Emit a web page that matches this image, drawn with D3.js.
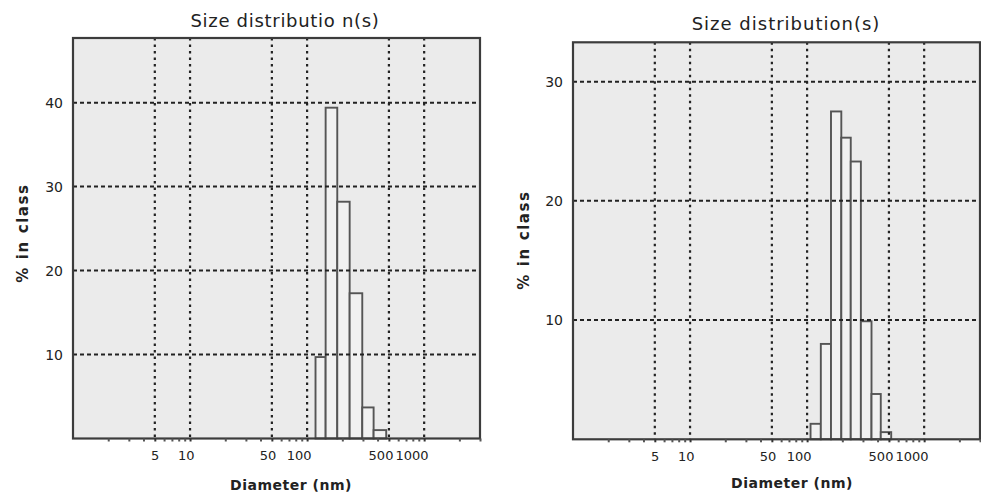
<!DOCTYPE html>
<html>
<head>
<meta charset="utf-8">
<script src="https://cdn.jsdelivr.net/npm/d3@7"></script>
<style>
  html, body { margin: 0; padding: 0; background: #ffffff; }
  svg { display: block; }
  text { font-family: "DejaVu Sans", Verdana, sans-serif; fill: #222; }
</style>
</head>
<body>
<svg id="chart" width="981" height="492"></svg>
<script>
// ---- data ----
const xDomain = [1, 3000];
const xTickValues = [5, 10, 50, 100, 500, 1000];
const xTickLabels = ["5", "10", "50", "100", "500", "1000"];
const minorTickValues = [2, 3, 4, 6, 7, 8, 9, 20, 30, 40, 60, 70, 80, 90, 200, 300, 400, 600, 700, 800, 900, 2000, 3000];

const leftTitle = "Size distributio n(s)";
const leftYMax = 47.7;
const leftYTicks = [10, 20, 30, 40];
const leftBinEdges = [118, 144, 181, 231, 296, 370, 474];
const leftValues = [9.7, 39.4, 28.2, 17.3, 3.7, 1.0];

const rightTitle = "Size distribution(s)";
const rightYMax = 33.3;
const rightYTicks = [10, 20, 30];
const rightBinEdges = [107, 131, 160, 196, 236, 288, 355, 426, 523];
const rightValues = [1.3, 8.0, 27.5, 25.3, 23.3, 9.9, 3.8, 0.6];

const yLabel = "% in class";
const xLabel = "Diameter (nm)";

// ---- drawing ----
const svg = d3.select("#chart");

function drawPanel(p) {
  const x = d3.scaleLog().domain(xDomain).range([p.left, p.right]);
  const y = d3.scaleLinear().domain([0, p.yMax]).range([p.bottom, p.top]);
  const g = svg.append("g");

  // plot background
  g.append("rect")
    .attr("x", p.left).attr("y", p.top)
    .attr("width", p.right - p.left).attr("height", p.bottom - p.top)
    .attr("fill", "#ebebeb");

  // bars
  const bins = p.values.map((v, i) => ({ x0: p.edges[i], x1: p.edges[i + 1], v }));
  g.selectAll("rect.bar").data(bins).join("rect")
    .attr("class", "bar")
    .attr("x", d => x(d.x0))
    .attr("width", d => x(d.x1) - x(d.x0))
    .attr("y", d => y(d.v))
    .attr("height", d => y(0) - y(d.v))
    .attr("fill", "#f1f1f1")
    .attr("stroke", "#555")
    .attr("stroke-width", 1.9);

  // grid: vertical dotted
  g.selectAll("line.vgrid").data(xTickValues).join("line")
    .attr("class", "vgrid")
    .attr("x1", d => x(d)).attr("x2", d => x(d))
    .attr("y1", p.top).attr("y2", p.bottom)
    .attr("stroke", "#222").attr("stroke-width", 2.2)
    .attr("stroke-dasharray", "2.5,4");

  // grid: horizontal dashed
  g.selectAll("line.hgrid").data(p.yTicks).join("line")
    .attr("class", "hgrid")
    .attr("x1", p.left).attr("x2", p.right)
    .attr("y1", d => y(d)).attr("y2", d => y(d))
    .attr("stroke", "#222").attr("stroke-width", 2)
    .attr("stroke-dasharray", "4,3");

  // frame
  g.append("rect")
    .attr("x", p.left).attr("y", p.top)
    .attr("width", p.right - p.left).attr("height", p.bottom - p.top)
    .attr("fill", "none").attr("stroke", "#3c3c3c").attr("stroke-width", 2.2);

  // x axis (ticks + labels)
  const xAxis = d3.axisBottom(x)
    .tickValues(xTickValues)
    .tickFormat((d, i) => xTickLabels[i])
    .tickSize(3).tickPadding(9);
  const ax = g.append("g").attr("transform", `translate(0,${p.bottom})`).call(xAxis);
  ax.select(".domain").remove();
  ax.selectAll(".tick line").attr("stroke", "#333").attr("stroke-width", 2);
  ax.selectAll(".tick text")
    .attr("text-anchor", "end").attr("dx", 4)
    .style("font-size", "13px").style("font-family", "'DejaVu Sans', sans-serif").attr("fill", "#111");

  // minor ticks
  const minorAxis = d3.axisBottom(x).tickValues(minorTickValues).tickSize(3).tickFormat("");
  const mx = g.append("g").attr("transform", `translate(0,${p.bottom})`).call(minorAxis);
  mx.select(".domain").remove();
  mx.selectAll(".tick line").attr("stroke", "#555").attr("stroke-width", 2);

  // y axis labels
  const yAxis = d3.axisLeft(y).tickValues(p.yTicks).tickSize(0).tickPadding(10);
  const ay = g.append("g").attr("transform", `translate(${p.left},0)`).call(yAxis);
  ay.select(".domain").remove();
  ay.selectAll(".tick text")
    .style("font-size", "14px").style("font-family", "'DejaVu Sans', sans-serif").attr("fill", "#111");

  // title
  g.append("text")
    .attr("x", p.titleX).attr("y", p.titleY)
    .attr("text-anchor", "middle")
    .style("font-size", "18px").style("letter-spacing", p.titleSpacing)
    .attr("fill", "#111")
    .text(p.title);

  // x label
  g.append("text")
    .attr("x", p.xLabelX).attr("y", p.xLabelY)
    .attr("text-anchor", "middle")
    .style("font-size", "14px").style("font-weight", "bold").style("letter-spacing", "0.5px")
    .text(xLabel);

  // y label
  g.append("text")
    .attr("transform", `translate(${p.yLabelX},${p.yLabelY}) rotate(-90)`)
    .attr("text-anchor", "middle")
    .style("font-size", "15px").style("font-weight", "bold").style("letter-spacing", "1.6px")
    .text(yLabel);
}

drawPanel({
  left: 73, right: 480, top: 38, bottom: 438.5,
  yMax: leftYMax, yTicks: leftYTicks,
  edges: leftBinEdges, values: leftValues,
  title: leftTitle, titleX: 285, titleY: 27, titleSpacing: "0.7px",
  xLabelX: 291, xLabelY: 490,
  yLabelX: 28, yLabelY: 233
});

drawPanel({
  left: 573, right: 980, top: 42.3, bottom: 439.3,
  yMax: rightYMax, yTicks: rightYTicks,
  edges: rightBinEdges, values: rightValues,
  title: rightTitle, titleX: 786, titleY: 30, titleSpacing: "1px",
  xLabelX: 792, xLabelY: 488,
  yLabelX: 529, yLabelY: 240
});
</script>
</body>
</html>
